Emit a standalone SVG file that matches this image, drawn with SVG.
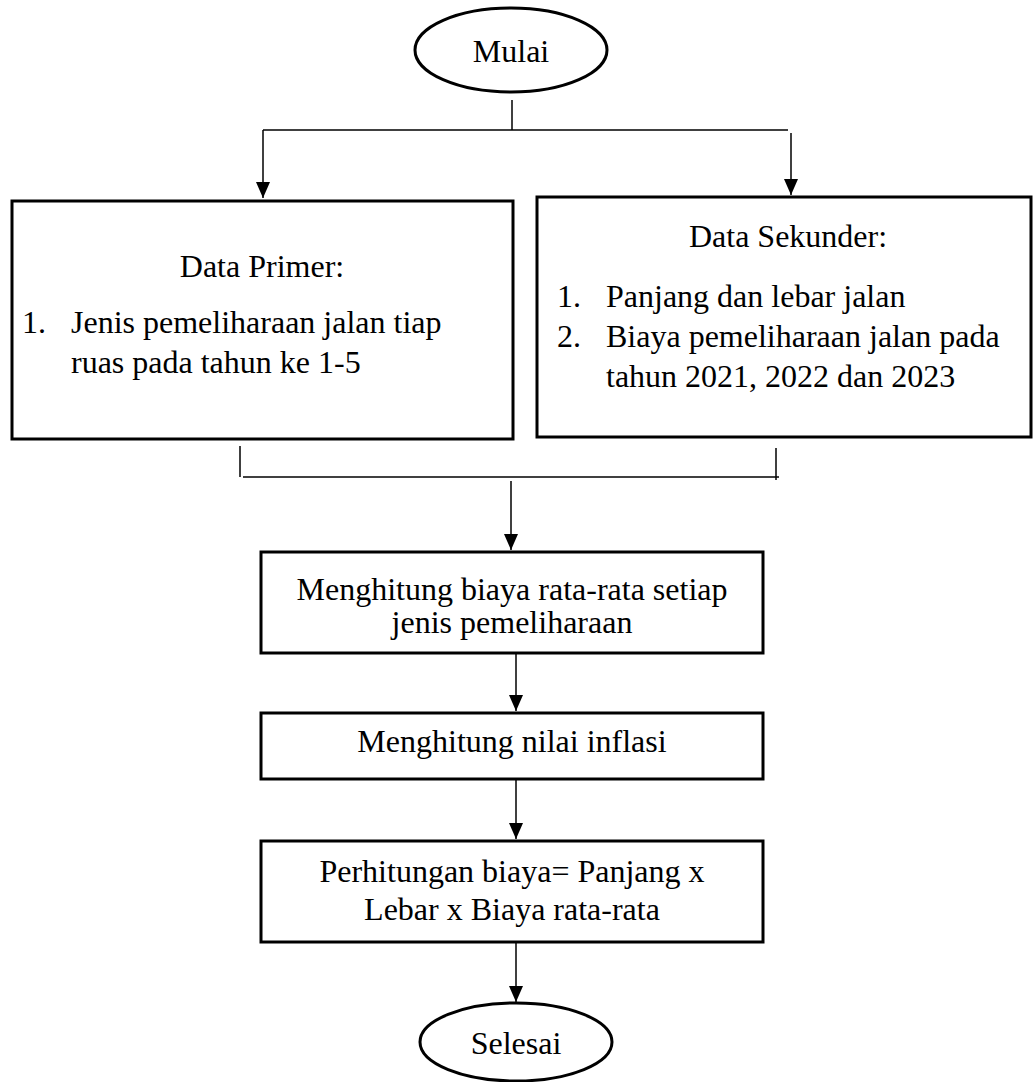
<svg xmlns="http://www.w3.org/2000/svg" width="1033" height="1082" viewBox="0 0 1033 1082">
  <style>
    .shape { fill: #ffffff; stroke: #000000; stroke-width: 3; }
    .wire { fill: none; stroke: #000000; stroke-width: 1.5; }
    text { font-family: "Liberation Serif", "Times New Roman", serif; font-size: 32px; fill: #000000; }
    .mid { text-anchor: middle; }
  </style>
  <defs>
    <marker id="head" markerUnits="userSpaceOnUse" markerWidth="14" markerHeight="16" refX="7" refY="16" orient="auto-start-reverse" viewBox="0 0 14 16">
      <path d="M0,0 L14,0 L7,16 Z" fill="#000000" transform="rotate(-90 7 8) translate(0 0)"/>
    </marker>
    <marker id="down" markerUnits="userSpaceOnUse" markerWidth="14" markerHeight="16" refX="7" refY="16" orient="0" viewBox="0 0 14 16">
      <path d="M0,0 L14,0 L7,16 Z" fill="#000000"/>
    </marker>
  </defs>

  <rect width="1033" height="1082" fill="#ffffff"/>

  <g id="connectors">
    <line class="wire" x1="512" y1="100" x2="512" y2="130"/>
    <line class="wire" x1="263" y1="130" x2="788" y2="130"/>
    <line class="wire" x1="263" y1="130" x2="263" y2="198" marker-end="url(#down)"/>
    <line class="wire" x1="791" y1="133" x2="791" y2="195" marker-end="url(#down)"/>

    <line class="wire" x1="240" y1="446" x2="240" y2="477"/>
    <line class="wire" x1="243" y1="477" x2="779" y2="477"/>
    <line class="wire" x1="776" y1="448" x2="776" y2="480"/>
    <line class="wire" x1="511" y1="481" x2="511" y2="550" marker-end="url(#down)"/>

    <line class="wire" x1="516" y1="653" x2="516" y2="711" marker-end="url(#down)"/>
    <line class="wire" x1="516" y1="779" x2="516" y2="839" marker-end="url(#down)"/>
    <line class="wire" x1="516" y1="942" x2="516" y2="1002" marker-end="url(#down)"/>
  </g>

  <g id="start">
    <ellipse class="shape" cx="511" cy="50" rx="96" ry="42"/>
    <text class="mid" x="511" y="62">Mulai</text>
  </g>

  <g id="primary-data">
    <rect class="shape" x="12" y="201" width="501" height="238"/>
    <text class="mid" x="262" y="277">Data Primer:</text>
    <text x="22" y="333">1.</text>
    <text x="71" y="333">Jenis pemeliharaan jalan tiap</text>
    <text x="71" y="373">ruas pada tahun ke 1-5</text>
  </g>

  <g id="secondary-data">
    <rect class="shape" x="537" y="197" width="494" height="240"/>
    <text class="mid" x="788" y="247">Data Sekunder:</text>
    <text x="557" y="307">1.</text>
    <text x="606" y="307">Panjang dan lebar jalan</text>
    <text x="557" y="347">2.</text>
    <text x="606" y="347">Biaya pemeliharaan jalan pada</text>
    <text x="606" y="387">tahun 2021, 2022 dan 2023</text>
  </g>

  <g id="average-cost">
    <rect class="shape" x="261" y="552" width="502" height="101"/>
    <text class="mid" x="512" y="600">Menghitung biaya rata-rata setiap</text>
    <text class="mid" x="512" y="633">jenis pemeliharaan</text>
  </g>

  <g id="inflation">
    <rect class="shape" x="261" y="713" width="502" height="66"/>
    <text class="mid" x="512" y="752">Menghitung nilai inflasi</text>
  </g>

  <g id="cost-calc">
    <rect class="shape" x="261" y="841" width="502" height="101"/>
    <text class="mid" x="512" y="882">Perhitungan biaya= Panjang x</text>
    <text class="mid" x="512" y="920">Lebar x Biaya rata-rata</text>
  </g>

  <g id="finish">
    <ellipse class="shape" cx="516" cy="1042" rx="96" ry="39"/>
    <text class="mid" x="516" y="1054">Selesai</text>
  </g>
</svg>
